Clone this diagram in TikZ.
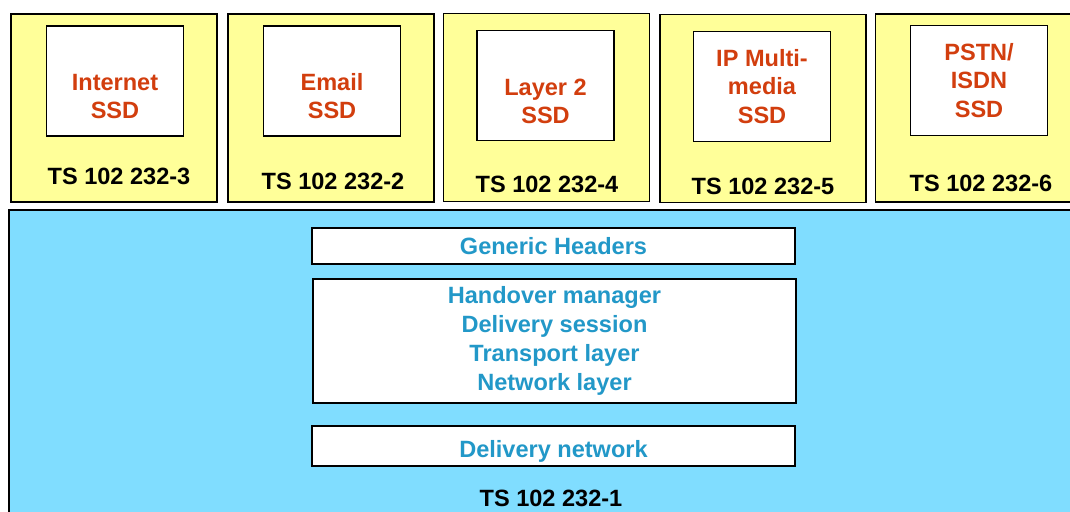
\documentclass[tikz,border=0pt]{standalone}
\usepackage{fontspec}
\setmainfont{Liberation Sans}
\definecolor{specyellow}{RGB}{255,255,153}
\definecolor{coreblue}{RGB}{128,221,255}
\definecolor{ssdred}{RGB}{210,62,14}
\definecolor{layerblue}{RGB}{34,152,200}

\begin{document}
\begin{tikzpicture}[x=0.02cm,y=-0.02cm,
    every node/.style={font=\fontsize{13.4}{16}\selectfont\bfseries},
    specbox/.style={draw,line width=1pt,fill=specyellow,minimum width=4.12cm,minimum height=3.76cm},
    ssdbox/.style={draw,line width=1pt,fill=white,text=ssdred,align=center,minimum width=2.74cm,minimum height=2.2cm},
    layerbox/.style={draw,line width=1pt,fill=white,text=layerblue,align=center,minimum width=9.66cm,
        font=\fontsize{13.4}{16.5}\selectfont\bfseries}]
    \useasboundingbox (0,0) rectangle (1070,511);
    \clip (0,0) rectangle (1070,511);

    \node[specbox] (s3) at (114,108) {};
    \node[specbox] (s2) at (331,108) {};
    \node[specbox] (s4) at (546.5,107.5) {};
    \node[specbox] (s5) at (763,108.5) {};
    \node[specbox] (s6) at (978.5,108) {};

    \node[ssdbox] (internet) at (115,81) {\strut\\Internet\\SSD};
    \node[ssdbox] (email) at (332,81) {\strut\\Email\\SSD};
    \node[ssdbox] (layer2) at (545.5,85.5) {\strut\\Layer 2\\SSD};
    \node[ssdbox] (ipmm) at (762,86.5) {IP Multi-\\media\\SSD};
    \node[ssdbox] (pstn) at (979,80.5) {PSTN/\\ISDN\\SSD};

    \node (t3) at (119,176) {TS 102 232-3};
    \node (t2) at (333,181) {TS 102 232-2};
    \node (t4) at (547,184) {TS 102 232-4};
    \node (t5) at (763,186) {TS 102 232-5};
    \node (t6) at (981,183) {TS 102 232-6};

    \node[draw,line width=1pt,fill=coreblue,minimum width=21.62cm,minimum height=6.4cm] (core) at (549.5,370) {};

    \node[layerbox,minimum height=0.72cm] (headers) at (553.5,246) {Generic Headers};
    \node[layerbox,minimum height=2.48cm] (manager) at (554.5,341) {Handover manager\\Delivery session\\Transport layer\\Network layer};
    \node[layerbox,minimum height=0.8cm,text height=13.6pt,text depth=0pt] (network) at (553.5,446) {Delivery network};
    \node (t1) at (551,498) {TS 102 232-1};
\end{tikzpicture}
\end{document}
